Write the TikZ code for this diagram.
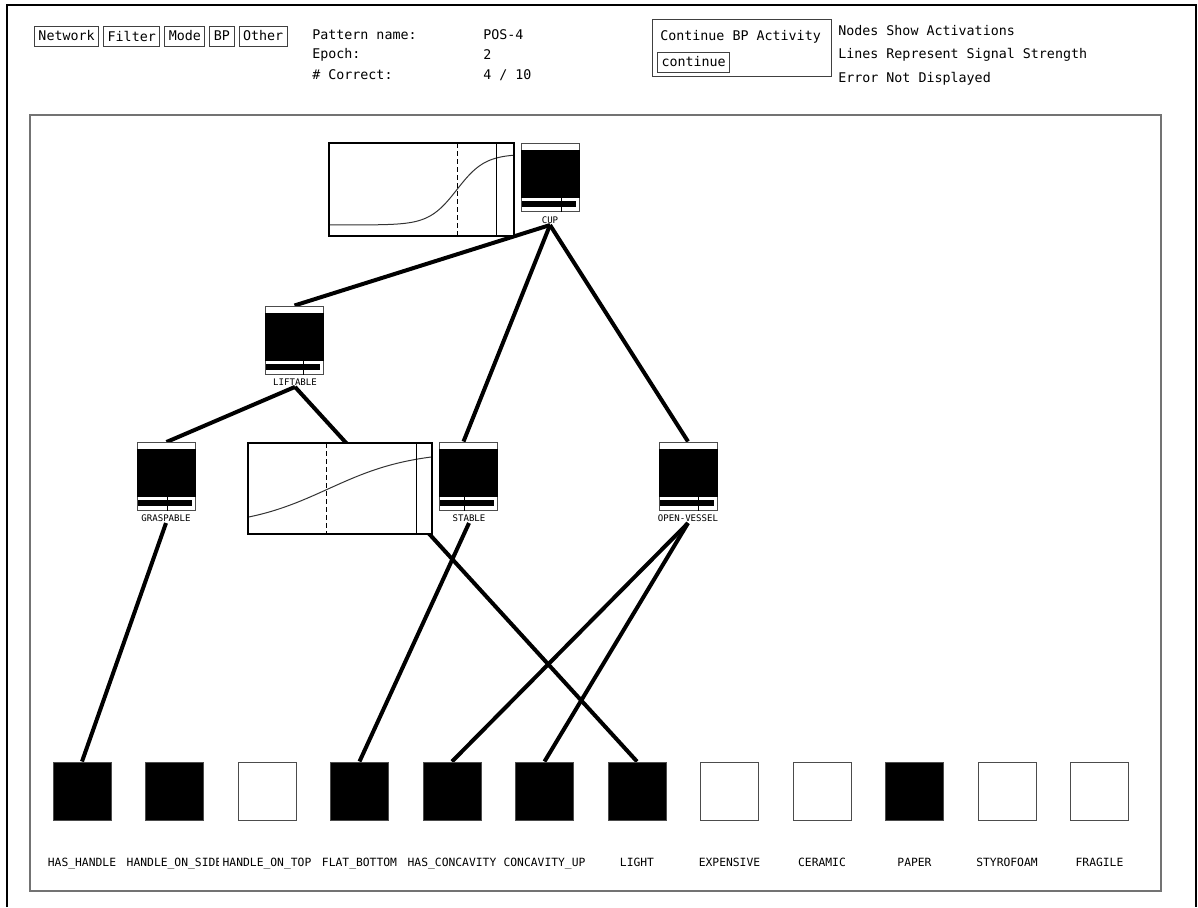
\documentclass[tikz,border=0pt]{standalone}
\usepackage{fontspec}
\setmonofont{DejaVu Sans Mono}
\usetikzlibrary{calc,backgrounds}
\newdimen\pxu \pxu=0.75pt
% activation display inside a unit box: main block, bar and divider
\newcommand\activation[2]{%
  \fill ($(#1.north west)+(0,7)$) rectangle ($(#1.north east)+(0,55)$);
  \fill ($(#1.north west)+(1,58)$) rectangle ($(#1.north east)+(-4,64)$);
  \draw[line width=1\pxu] ($(#1.north west)!#2!(#1.north east)+(0,55)$) -- ($(#1.south west)!#2!(#1.south east)$);
}
\begin{document}
\begin{tikzpicture}[x=0.75pt,y=-0.75pt,
  hdr/.style={font=\ttfamily\fontsize{10}{12}\selectfont, inner sep=0pt, anchor=west},
  btn/.style={draw=black!75, line width=1\pxu, font=\ttfamily\fontsize{10}{12}\selectfont,
    inner xsep=4\pxu, inner ysep=0pt, minimum height=20\pxu, anchor=west},
  unitbox/.style={draw=black!70, line width=1\pxu, fill=white, minimum width=58\pxu,
    minimum height=68\pxu, inner sep=0pt},
  unitlabel/.style={font=\ttfamily\fontsize{6.8}{8}\selectfont, inner sep=1pt},
  inbox/.style={draw=black!70, line width=1\pxu, minimum width=58\pxu, minimum height=58\pxu, inner sep=0pt},
  inlabel/.style={font=\ttfamily\fontsize{8.5}{10}\selectfont, inner sep=0pt, anchor=base},
  link/.style={line width=4\pxu},
  plotbg/.style={fill=white, inner sep=0pt, anchor=north west},
  plotedge/.style={draw=black, line width=2\pxu},
  curve/.style={black!80, line width=1\pxu},
  marker/.style={line width=1\pxu, dash pattern=on 3.75pt off 2.25pt},
]
\useasboundingbox (0,0) rectangle (1198,907);

% window frame
\draw[line width=2.5\pxu] (7,907) -- (7,5) -- (1196,5) -- (1196,907);
\draw[black!55, line width=1.5\pxu] (30,115) rectangle (1161,891);

% menu buttons
\node[btn] (b-net) at (34,36) {Network};
\node[btn] (b-filter) at ($(b-net.east)+(4,0)$) {Filter};
\node[btn] (b-mode) at ($(b-filter.east)+(4,0)$) {Mode};
\node[btn] (b-bp) at ($(b-mode.east)+(4,0)$) {BP};
\node[btn] (b-other) at ($(b-bp.east)+(4,0)$) {Other};

% status fields
\node[hdr] (t-pat) at (312,35) {Pattern name:};
\node[hdr] (t-epo) at (312,55) {Epoch:};
\node[hdr] (t-cor) at (312,75) {\# Correct:};
\node[hdr] (v-pat) at (483,35) {POS-4};
\node[hdr] (v-epo) at (483,55) {2};
\node[hdr] (v-cor) at (483,75) {4 / 10};

% continue panel
\node[draw=black!75, line width=1\pxu, minimum width=179\pxu, minimum height=57\pxu, inner sep=0pt, anchor=north west] (c-box) at (652,19) {};
\node[hdr] (c-title) at (660,37) {Continue BP Activity};
\node[btn] (c-btn) at (657,62) {continue};

\node[hdr] (n-1) at (838,31) {Nodes Show Activations};
\node[hdr] (n-2) at (838,55) {Lines Represent Signal Strength};
\node[hdr] (n-3) at (838,79) {Error Not Displayed};

% hidden and output units
\node[unitbox] (cup) at (550,177) {};
\node[unitbox] (lift) at (294.5,340) {};
\node[unitbox] (grasp) at (166.5,476.5) {};
\node[unitbox] (stable) at (468.5,476) {};
\node[unitbox] (open) at (688,476) {};
\activation{cup}{0.69}
\activation{lift}{0.65}
\activation{grasp}{0.51}
\activation{stable}{0.44}
\activation{open}{0.67}
\node[unitlabel] (cup-l) at (550,220) {CUP};
\node[unitlabel] (lift-l) at (295,382) {LIFTABLE};
\node[unitlabel] (grasp-l) at (166,518) {GRASPABLE};
\node[unitlabel] (stable-l) at (469,518) {STABLE};
\node[unitlabel] (open-l) at (688,518) {OPEN-VESSEL};

% input units
\foreach \nm/\f [count=\i from 0] in {HAS\_HANDLE/black, HANDLE\_ON\_SIDE/black,
    HANDLE\_ON\_TOP/white, FLAT\_BOTTOM/black, HAS\_CONCAVITY/black, CONCAVITY\_UP/black,
    LIGHT/black, EXPENSIVE/white, CERAMIC/white, PAPER/black, STYROFOAM/white, FRAGILE/white}{
  \node[inbox, fill=\f] (in\i) at ({82+92.5*\i},791) {};
  \begin{scope}
    \clip ({82+92.5*\i-50},850) rectangle ({82+92.5*\i+44},875);
    \node[inlabel] (in\i-l) at ({82+92.5*\i},866) {\nm};
  \end{scope}
}

% weighted connections
\begin{pgfonlayer}{background}
  \draw[link] (cup-l.south) -- (lift.north);
  \draw[link] (cup-l.south) -- ($(stable.north)+(-5,0)$);
  \draw[link] (cup-l.south) -- (open.north);
  \draw[link] (lift-l.south) -- (grasp.north);
  \draw[link] (lift-l.south) -- (in6.north);
  \draw[link] (grasp-l.south) -- (in0.north);
  \draw[link] (stable-l.south) -- (in3.north);
  \draw[link] (open-l.south) -- (in4.north);
  \draw[link] (open-l.south) -- (in5.north);
\end{pgfonlayer}

% activation function plots
\node[plotbg, minimum width=184\pxu, minimum height=92\pxu] (cup-plot) at (329,143) {};
\draw[curve] plot[domain=329:513, samples=90] (\x,{225-71/(1+exp(-(\x-457)/14))});
\draw[marker] (457,143) -- (457,235);
\draw[line width=1\pxu] (496,143) -- (496,235);
\draw[plotedge] (cup-plot.north west) rectangle (cup-plot.south east);

\node[plotbg, minimum width=183\pxu, minimum height=90\pxu] (lift-plot) at (248,443) {};
\draw[curve] plot[domain=248:431, samples=90] (\x,{527-76/(1+exp(-(\x-328)/42))});
\draw[marker] (326,443) -- (326,533);
\draw[line width=1\pxu] (416,443) -- (416,533);
\draw[plotedge] (lift-plot.north west) rectangle (lift-plot.south east);
\end{tikzpicture}
\end{document}
